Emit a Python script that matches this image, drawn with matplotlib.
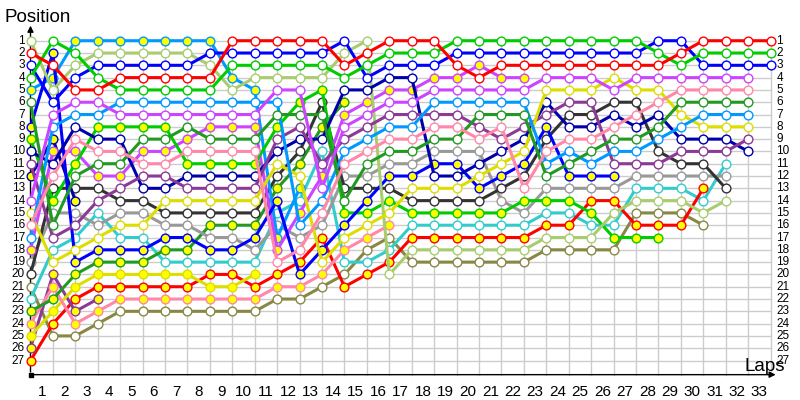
import numpy as np
import matplotlib.pyplot as plt

# lap chart: position of every driver after each lap (lap 0 = grid)
laps = np.arange(0, 34)
positions = np.arange(1, 28)
lap_labels = [str(i) for i in range(1, 34)]

yellowgreen_w = [1, 5, 3, 2, 2, 2, 2, 2, 3, 5, 4, 4, 4, 4, 2, 1, 20, 18, 18, 18, 18, 18, 18, 17, 17, 17, 15, 14, 14, 14, 15, 14]
red_w = [2, 3, 5, 5, 4, 4, 4, 4, 4, 1, 1, 1, 1, 1, 3, 2, 1, 1, 1, 3, 4, 3, 3, 3, 3, 3, 3, 3, 3, 2, 1, 1, 1, 1]
blue_w = [3, 6, 4, 3, 3, 3, 3, 3, 2, 2, 2, 2, 2, 2, 1, 4, 3, 3, 3, 2, 2, 2, 2, 2, 2, 2, 2, 2, 1, 1, 3, 3, 3, 3]
green_w = [4, 1, 2, 4, 5, 5, 5, 5, 5, 3, 3, 3, 3, 3, 4, 3, 2, 2, 2, 1, 1, 1, 1, 1, 1, 1, 1, 1, 2, 3, 2, 2, 2, 2]
lightblue_y = [5, 4, 1, 1, 1, 1, 1, 1, 1, 4, 5, 17, 13]
darkgreen_w = [6, 16, 12, 11, 11, 9, 9, 8, 9, 9, 9, 7, 7, 7, 14, 11, 10, 10, 9, 9, 7, 7, 7, 12, 11, 10, 9, 9, 8, 6, 6, 6, 6]
blue_y = [8, 2, 19, 18, 18, 18, 17, 17, 18, 18, 17, 14, 20, 18, 16, 14, 12, 12, 11, 11, 13, 12, 11, 8, 12, 12, 12]
green_y = [9, 14, 11, 8, 8, 8, 8, 11, 11, 11, 11, 8, 6, 5, 15, 15, 14, 15, 15, 15, 15, 15, 14, 14, 14, 15, 17, 17, 17]
darkblue_w = [10, 11, 8, 9, 9, 13, 13, 12, 12, 12, 12, 10, 9, 9, 5, 5, 4, 4, 12, 12, 11, 10, 9, 6, 8, 8, 7, 8, 7, 9, 9, 9, 10]
purple_w = [11, 17, 16, 14, 13, 12, 12, 13, 13, 13, 13, 9, 8, 11, 9, 8, 7, 7, 7, 7, 8, 9, 8, 7, 6, 6, 11, 11, 11, 10, 10, 10, 9]
darkblue_y = [12, 9, 14]
magenta_w = [14, 7, 6, 6, 7, 7, 7, 7, 7, 7, 7, 5, 5, 13, 8, 7, 6, 6, 5, 5, 5, 5, 5, 4, 4, 4, 5, 4, 4, 4, 4, 4, 4]
yellow_w = [15, 19, 18, 17, 16, 16, 14, 14, 14, 14, 14, 11, 12, 19, 17, 16, 15, 13, 13, 13, 12, 11, 10, 5, 5, 5, 4, 5, 5, 7, 8, 8, 8]
pink_w = [16, 12, 9, 10, 10, 11, 11, 10, 10, 10, 10, 19, 18, 15, 11, 10, 9, 9, 8, 8, 9, 8, 13, 10, 9, 9, 8, 7, 6, 5, 5, 5, 5]
lightblue_w = [17, 8, 7, 7, 6, 6, 6, 6, 6, 6, 6, 6, 16, 14, 10, 9, 8, 8, 6, 6, 6, 6, 6, 11, 10, 11, 10, 10, 9, 8, 7, 7, 7]
magenta_y = [18, 10, 10, 12, 12, 10, 10, 9, 8, 8, 8, 18, 15, 12, 7, 6, 5, 5, 4, 4, 3, 4, 4]
gray_w = [19, 15, 15, 16, 15, 15, 16, 16, 17, 17, 18, 16, 17, 16, 12, 12, 11, 11, 10, 10, 10, 14, 15, 13, 13, 13, 13, 12, 12, 12, 12, 12]
black_w = [20, 13, 13, 13, 14, 14, 15, 15, 15, 15, 15, 12, 10, 6, 13, 13, 13, 14, 14, 14, 14, 13, 12, 9, 7, 7, 6, 6, 10, 11, 11, 13]
olive_w = [21, 25, 25, 24, 23, 23, 23, 23, 23, 23, 23, 22, 22, 21, 20, 18, 17, 19, 19, 19, 19, 19, 19, 18, 18, 18, 18, 15, 15, 15, 16]
cyan_w = [22, 18, 17, 15, 17, 17, 19, 19, 19, 19, 19, 15, 14, 10, 19, 19, 18, 16, 16, 16, 16, 16, 16, 15, 15, 16, 16, 13, 13, 13, 14, 11]
darkgreen_y = [23, 22, 20, 19, 19, 19, 18, 18, 16, 16, 16, 13, 11, 8, 6]
pink_y = [24, 21, 24, 23, 22, 22, 22, 22, 22, 22, 22, 21, 21, 20, 18, 17, 16]
yellow_y = [25, 23, 21, 20, 20, 20, 20, 20, 21, 21, 20]
purple_y = [26, 20, 23, 22]
red_y = [27, 24, 22, 21, 21, 21, 21, 21, 20, 20, 21, 20, 19, 17, 21, 20, 19, 17, 17, 17, 17, 17, 17, 16, 16, 14, 14, 16, 16, 16, 13]

YELLOW = '#ffff00'
drivers = [
    (olive_w, '#888844', 'white'),
    (cyan_w, '#33cccc', 'white'),
    (red_y, '#ff0000', YELLOW),
    (purple_y, '#8b3a96', YELLOW),
    (yellow_y, '#dddd00', YELLOW),
    (pink_y, '#ff88aa', YELLOW),
    (darkgreen_y, '#229922', YELLOW),
    (gray_w, '#999999', 'white'),
    (black_w, '#333333', 'white'),
    (darkblue_y, '#0000aa', YELLOW),
    (lightblue_y, '#0099ff', YELLOW),
    (magenta_y, '#cc44ff', YELLOW),
    (green_y, '#00cc00', YELLOW),
    (blue_y, '#0000ff', YELLOW),
    (yellowgreen_w, '#a9cc6e', 'white'),
    (darkblue_w, '#0000aa', 'white'),
    (purple_w, '#8b3a96', 'white'),
    (yellow_w, '#dddd00', 'white'),
    (lightblue_w, '#0099ff', 'white'),
    (darkgreen_w, '#229922', 'white'),
    (pink_w, '#ff88aa', 'white'),
    (magenta_w, '#cc44ff', 'white'),
    (blue_w, '#0000ff', 'white'),
    (green_w, '#00cc00', 'white'),
    (red_w, '#ff0000', 'white'),
]

plt.rcParams['font.family'] = ['Liberation Sans', 'DejaVu Sans']

fig = plt.figure(figsize=(8, 4), dpi=100)
ax = fig.add_axes([0, 0, 1, 1])
ax.set_xlim(-1.36, 34.31)
ax.set_ylim(30.21, -2.31)
ax.axis('off')

axis_y = 28.15

# grid
for p in positions:
    ax.plot([0, 33], [p, p], color='#cccccc', lw=1, zorder=0)
for l in laps[1:]:
    ax.plot([l, l], [1, axis_y], color='#cccccc', lw=1, zorder=0)

# axes with arrows
ax.annotate('', xy=(0, -0.45), xytext=(0, axis_y),
            arrowprops=dict(arrowstyle='-|>', color='black', lw=1, mutation_scale=9))
ax.annotate('', xy=(33.35, axis_y), xytext=(0, axis_y),
            arrowprops=dict(arrowstyle='-|>', color='black', lw=1, mutation_scale=9))
ax.plot(0, axis_y, 's', ms=2.5, color='black')

for pos, color, fill in drivers:
    ax.plot(laps[:len(pos)], pos, '-o', color=color, lw=2.2, ms=6.3,
            mfc=fill, mec=color, mew=1, zorder=3)

# labels
for p in positions:
    ax.text(-0.25, p, str(p), ha='right', va='center', fontsize=8.5)
    ax.text(33.25, p, str(p), ha='left', va='center', fontsize=8.5)
for i, lab in enumerate(lap_labels):
    ax.text(i + 0.5, 29.55, lab, ha='center', va='center', fontsize=11)

ax.text(-1.15, -0.85, 'Position', ha='left', va='center', fontsize=13.5)
ax.text(32.75, 27.45, 'Laps', ha='center', va='center', fontsize=13.5)

fig.savefig('out.png', dpi=100)
